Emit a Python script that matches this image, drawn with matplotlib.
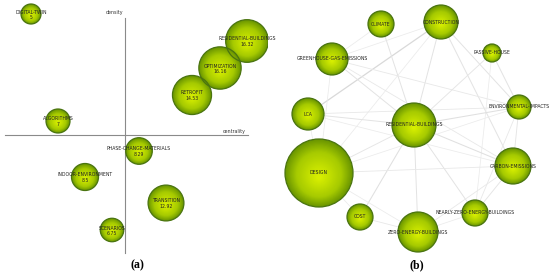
'''Thematic map (a) and co-occurrence network (b) of keywords, redrawn with matplotlib.'''
import numpy as np
import matplotlib.pyplot as plt
from matplotlib.patches import Circle, Rectangle
from matplotlib.colors import to_rgb

# ---- panel (a): strategic diagram ----
themes = ["DIGITAL-TWIN", "RESIDENTIAL-BUILDINGS", "OPTIMIZATION", "RETROFIT", "ALGORITHMS",
          "PHASE-CHANGE-MATERIALS", "INDOOR-ENVIRONMENT", "TRANSITION", "SCENARIOS"]
theme_values = [5, 16.32, 16.16, 14.53, 7, 8.29, 8.5, 12.92, 6.75]
centrality = [-94, 122, 95, 67, -67, 14, -40, 41, -13]
density = [121, 94, 67, 40, 14, -16, -42, -68, -95]

# ---- panel (b): keyword network ----
keywords = ["CLIMATE", "CONSTRUCTION", "PASSIVE-HOUSE", "GREENHOUSE-GAS-EMISSIONS", "LCA",
            "ENVIRONMENTAL-IMPACTS", "RESIDENTIAL-BUILDINGS", "DESIGN", "CARBON-EMISSIONS",
            "COST", "NEARLY-ZERO-ENERGY-BUILDINGS", "ZERO-ENERGY-BUILDINGS"]
node_x = [381, 441, 492, 332, 308, 519, 414, 319, 513, 360, 475, 418]
node_y = [24, 22, 53, 59, 114, 107, 125, 173, 166, 217, 213, 232]
node_size = [13, 17, 9, 16, 16, 12, 22, 34, 18, 13, 13, 20]
links = [("CONSTRUCTION", "LCA", 1.0), ("CONSTRUCTION", "RESIDENTIAL-BUILDINGS", 0.6),
         ("CONSTRUCTION", "ENVIRONMENTAL-IMPACTS", 0.6), ("CONSTRUCTION", "CARBON-EMISSIONS", 0.6),
         ("CONSTRUCTION", "GREENHOUSE-GAS-EMISSIONS", 0.3), ("CONSTRUCTION", "DESIGN", 0.3),
         ("CLIMATE", "RESIDENTIAL-BUILDINGS", 0.6), ("CLIMATE", "GREENHOUSE-GAS-EMISSIONS", 0.3),
         ("GREENHOUSE-GAS-EMISSIONS", "RESIDENTIAL-BUILDINGS", 0.6),
         ("GREENHOUSE-GAS-EMISSIONS", "ENVIRONMENTAL-IMPACTS", 0.4),
         ("GREENHOUSE-GAS-EMISSIONS", "CARBON-EMISSIONS", 0.4),
         ("PASSIVE-HOUSE", "RESIDENTIAL-BUILDINGS", 0.5), ("PASSIVE-HOUSE", "ENVIRONMENTAL-IMPACTS", 0.6),
         ("PASSIVE-HOUSE", "NEARLY-ZERO-ENERGY-BUILDINGS", 0.3),
         ("LCA", "RESIDENTIAL-BUILDINGS", 0.6), ("LCA", "ENVIRONMENTAL-IMPACTS", 0.4),
         ("LCA", "DESIGN", 0.3), ("LCA", "CARBON-EMISSIONS", 0.3),
         ("RESIDENTIAL-BUILDINGS", "ENVIRONMENTAL-IMPACTS", 0.7),
         ("RESIDENTIAL-BUILDINGS", "CARBON-EMISSIONS", 0.7), ("RESIDENTIAL-BUILDINGS", "DESIGN", 0.5),
         ("RESIDENTIAL-BUILDINGS", "COST", 0.7), ("RESIDENTIAL-BUILDINGS", "ZERO-ENERGY-BUILDINGS", 0.6),
         ("RESIDENTIAL-BUILDINGS", "NEARLY-ZERO-ENERGY-BUILDINGS", 0.6),
         ("DESIGN", "CARBON-EMISSIONS", 0.4), ("DESIGN", "ZERO-ENERGY-BUILDINGS", 0.3),
         ("DESIGN", "GREENHOUSE-GAS-EMISSIONS", 0.3), ("DESIGN", "ENVIRONMENTAL-IMPACTS", 0.3),
         ("COST", "ZERO-ENERGY-BUILDINGS", 0.4), ("COST", "DESIGN", 0.3),
         ("ENVIRONMENTAL-IMPACTS", "CARBON-EMISSIONS", 0.5),
         ("ENVIRONMENTAL-IMPACTS", "NEARLY-ZERO-ENERGY-BUILDINGS", 0.4),
         ("NEARLY-ZERO-ENERGY-BUILDINGS", "CARBON-EMISSIONS", 0.5),
         ("ZERO-ENERGY-BUILDINGS", "CARBON-EMISSIONS", 0.4),
         ("ZERO-ENERGY-BUILDINGS", "NEARLY-ZERO-ENERGY-BUILDINGS", 0.3)]

EDGE_COL = "#6a9600"
MID_COL = "#a6ca00"
CENTER_COL = "#d6ee00"
RING_COL = "#4a7410"


def bubble(ax, x, y, r, up=1, clip=None, steps=30):
    '''draw a shaded sphere-like bubble, highlight shifted a little'''
    c0 = np.array(to_rgb(EDGE_COL))
    c1 = np.array(to_rgb(MID_COL))
    c2 = np.array(to_rgb(CENTER_COL))
    for k in range(steps):
        t = k / (steps - 1)
        if t < 0.35:
            col = c0 + (c1 - c0) * t / 0.35
        else:
            col = c1 + (c2 - c1) * (t - 0.35) / 0.65
        p = ax.add_patch(Circle((x, y + up * 0.12 * r * t), r * (1 - 0.92 * t),
                                facecolor=col, edgecolor="none", zorder=3))
        if clip is not None:
            p.set_clip_path(clip)
    p = ax.add_patch(Circle((x, y), r, facecolor="none", edgecolor=RING_COL, lw=0.9, zorder=4))
    if clip is not None:
        p.set_clip_path(clip)


fig = plt.figure(figsize=(5.5, 2.78), dpi=100)

# panel (a), one data unit = one pixel, axes cross at the origin
axa = fig.add_axes([0, 0, 0.5, 1])
axa.set_xlim(-125, 150)
axa.set_ylim(-143, 135)
axa.axis("off")
# the original panel is cropped a bit before the middle of the figure
crop = Rectangle((-125, -143), 268, 278, transform=axa.transData, fill=False, visible=False)
axa.add_patch(crop)
axa.plot([0, 0], [-118, 117], color="#8a8a8a", lw=0.8, zorder=1)
axa.plot([-120, 123], [0, 0], color="#8a8a8a", lw=0.8, zorder=1)
axa.text(-2, 120, "density", fontsize=3.4, color="#333333", ha="right", va="bottom")
axa.text(121, 1, "centrality", fontsize=3.4, color="#333333", ha="right", va="bottom")
for name, val, cx, cy in zip(themes, theme_values, centrality, density):
    bubble(axa, cx, cy, 5 + val, up=-1, clip=crop)
    t1 = axa.text(cx, cy + 2, name, fontsize=3.3, color="#222222", ha="center", va="center", zorder=5)
    t2 = axa.text(cx, cy - 3.5, f"{val:g}", fontsize=3.3, color="#222222", ha="center", va="center",
                  zorder=5)
    t1.set_clip_path(crop)
    t2.set_clip_path(crop)
axa.text(12, -130, "(a)", fontsize=8.5, fontweight="bold", family="Liberation Serif",
         ha="center", va="center")

# panel (b), y axis runs downwards like the layout coordinates
axb = fig.add_axes([0.5, 0, 0.5, 1])
axb.set_xlim(275, 550)
axb.set_ylim(278, 0)
axb.axis("off")
pos = {k: (x, y) for k, x, y in zip(keywords, node_x, node_y)}
for a, b, w in links:
    (x0, y0), (x1, y1) = pos[a], pos[b]
    axb.plot([x0, x1], [y0, y1], color=str(0.95 - 0.1 * w), lw=0.4 + 0.5 * w, zorder=1)
for name, x, y, r in zip(keywords, node_x, node_y, node_size):
    bubble(axb, x, y, r, up=1)
    axb.text(x, y, name, fontsize=3.3, color="#222222", ha="center", va="center", zorder=5)
axb.text(417, 265, "(b)", fontsize=8.5, fontweight="bold", family="Liberation Serif",
         ha="center", va="center")

fig.savefig("out.png", dpi=100, facecolor="white")
